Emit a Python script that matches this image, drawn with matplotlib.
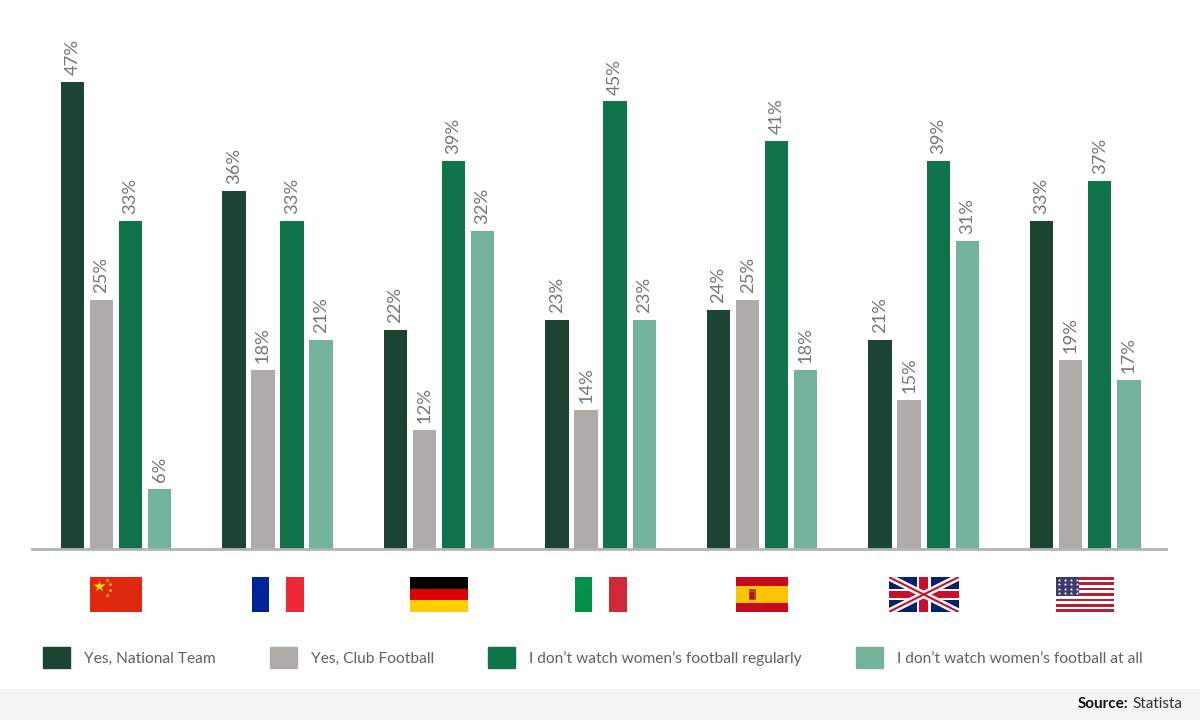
import matplotlib.pyplot as plt
import matplotlib.patches as mpatches
import numpy as np

countries = ['China', 'France', 'Germany', 'Italy', 'Spain', 'UK', 'USA']
series = ['Yes, National Team', 'Yes, Club Football',
          'I don\u2019t watch women\u2019s football regularly',
          'I don\u2019t watch women\u2019s football at all']
national = [47, 36, 22, 23, 24, 21, 33]
club = [25, 18, 12, 14, 25, 15, 19]
not_regular = [33, 33, 39, 45, 41, 39, 37]
not_at_all = [6, 21, 32, 23, 18, 31, 17]
colors = ['#1b4433', '#aeaba9', '#10744b', '#73b39a']

plt.rcParams['font.family'] = ['Lato', 'DejaVu Sans']

fig = plt.figure(figsize=(12, 7.2), dpi=100)
W, H = 1200, 720
ax = fig.add_axes([32 / W, 171 / H, (1166 - 32) / W, 549 / H])

x = np.arange(len(countries))
pitch = 0.18
width = 0.145
for k, vals in enumerate([national, club, not_regular, not_at_all]):
    xs = x + (k - 1.5) * pitch
    ax.bar(xs, vals, width=width, color=colors[k], label=series[k], zorder=2)
    for xi, v in zip(xs, vals):
        ax.annotate(f'{v}%', (xi, v), xytext=(0, 5), textcoords='offset points',
                    rotation=90, ha='center', va='bottom', fontsize=13.2,
                    color='#767676')

ax.set_xlim(-0.52, 6.5)
ax.set_ylim(0, 55.2)
for s in ['top', 'right', 'left']:
    ax.spines[s].set_visible(False)
ax.spines['bottom'].set_color('#b3b3b3')
ax.spines['bottom'].set_linewidth(2)
ax.set_xticks([])
ax.set_yticks([])


# flags
def flag_axes(i, w_px):
    fx = ax.transData.transform((x[i], 0))[0]
    fa = fig.add_axes([(fx - w_px / 2) / W, (720 - 612) / H, w_px / W, 35 / H])
    fa.set_xlim(0, 1)
    fa.set_ylim(0, 1)
    fa.axis('off')
    return fa


def stripes_h(fa, cols):
    n = len(cols)
    for j, c in enumerate(cols):
        fa.add_patch(mpatches.Rectangle((0, 1 - (j + 1) / n), 1, 1 / n, color=c, lw=0))


def stripes_v(fa, cols):
    n = len(cols)
    for j, c in enumerate(cols):
        fa.add_patch(mpatches.Rectangle((j / n, 0), 1 / n, 1, color=c, lw=0))


fa = flag_axes(0, 52)
fa.add_patch(mpatches.Rectangle((0, 0), 1, 1, color='#de2910', lw=0))
fa.plot([0.17], [0.75], marker='*', ms=9, color='#ffde00', mec='none')
for px, py in [(0.32, 0.92), (0.38, 0.8), (0.38, 0.62), (0.32, 0.5)]:
    fa.plot([px], [py], marker='*', ms=3, color='#ffde00', mec='none')

fa = flag_axes(1, 52)
stripes_v(fa, ['#002395', 'white', '#ed2939'])

fa = flag_axes(2, 58)
stripes_h(fa, ['#000000', '#dd0000', '#ffce00'])

fa = flag_axes(3, 52)
stripes_v(fa, ['#009246', 'white', '#ce2b37'])

fa = flag_axes(4, 52)
stripes_h(fa, ['#c60b1e', '#ffc400', '#ffc400', '#c60b1e'])
fa.add_patch(mpatches.Rectangle((0.24, 0.33), 0.14, 0.34, color='#a0522d', lw=0))
fa.add_patch(mpatches.Rectangle((0.27, 0.38), 0.08, 0.2, color='#c60b1e', lw=0))

fa = flag_axes(5, 70)
fa.add_patch(mpatches.Rectangle((0, 0), 1, 1, color='#012169', lw=0))
fa.plot([0, 1], [0, 1], color='white', lw=5, solid_capstyle='butt')
fa.plot([0, 1], [1, 0], color='white', lw=5, solid_capstyle='butt')
fa.plot([0, 1], [0, 1], color='#c8102e', lw=1.5, solid_capstyle='butt')
fa.plot([0, 1], [1, 0], color='#c8102e', lw=1.5, solid_capstyle='butt')
fa.add_patch(mpatches.Rectangle((0.4, 0), 0.2, 1, color='white', lw=0))
fa.add_patch(mpatches.Rectangle((0, 0.33), 1, 0.34, color='white', lw=0))
fa.add_patch(mpatches.Rectangle((0.44, 0), 0.12, 1, color='#c8102e', lw=0))
fa.add_patch(mpatches.Rectangle((0, 0.4), 1, 0.2, color='#c8102e', lw=0))

fa = flag_axes(6, 58)
stripes_h(fa, ['#b22234' if j % 2 == 0 else 'white' for j in range(13)])
fa.add_patch(mpatches.Rectangle((0, 6 / 13), 0.4, 7 / 13, color='#3c3b6e', lw=0))
for r in range(4):
    for c in range(4):
        fa.plot([0.05 + c * 0.1], [0.55 + r * 0.12], marker='*', ms=2.5,
                color='white', mec='none')

# legend
handles = [mpatches.Patch(color=c) for c in colors]
fig.legend(handles, series, loc='center left', bbox_to_anchor=(43 / W, 1 - 657.5 / H),
           ncol=4, frameon=False, handlelength=1.72, handleheight=1.72,
           handletextpad=0.9, columnspacing=3.5, borderpad=0, borderaxespad=0,
           labelcolor='#606060', prop={'size': 11.2})

# footer
fig.patches.append(mpatches.Rectangle((0, 0), 1, 31 / H, transform=fig.transFigure,
                                      color='#f4f4f4', lw=0, zorder=0))
t = fig.text(1182 / W, 16 / H, 'Statista', ha='right', va='center', fontsize=11,
             color='#333333')
r = fig.canvas.get_renderer()
bb = t.get_window_extent(renderer=r)
fig.text((bb.x0 - 4) / W, 16 / H, 'Source:', ha='right', va='center', fontsize=11,
         color='#111111', fontweight='bold')

fig.savefig('out.png', dpi=100)
